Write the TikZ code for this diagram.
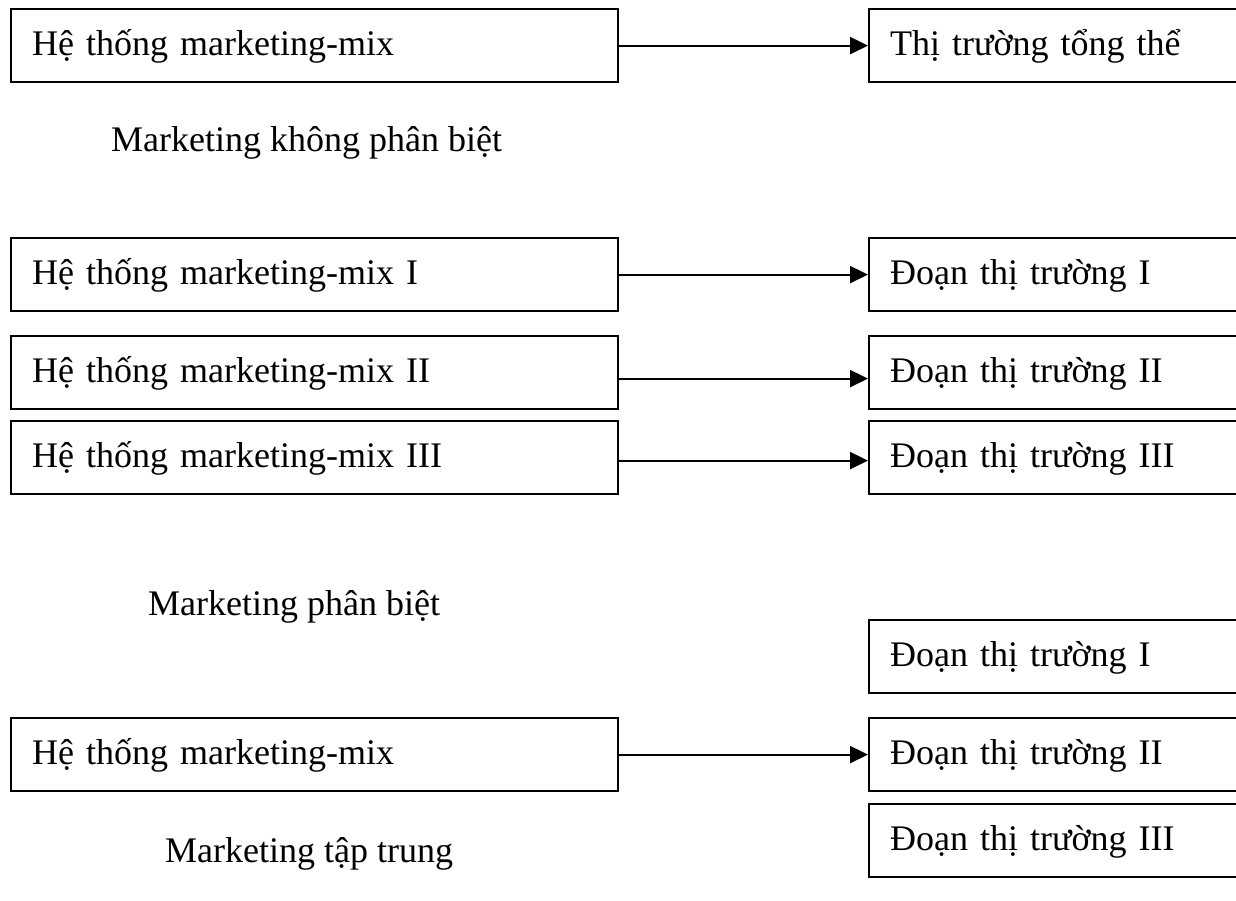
\documentclass[tikz,border=0pt]{standalone}
\usepackage{fontspec}
\setmainfont{Liberation Serif}
\usetikzlibrary{arrows.meta}
\begin{document}
\begin{tikzpicture}[x=1pt,y=-1pt,
  txt/.style={font=\fontsize{36}{43}\selectfont},
  box/.style={txt, draw, line width=2.2pt, anchor=north west,
    minimum height=73pt, inner xsep=21pt, inner ysep=0pt,
    text height=31pt, text depth=11pt, align=left},
  leftbox/.style={box, text width=565pt},
  rightbox/.style={box, text width=420pt},
  caption/.style={txt, anchor=base west, inner sep=0pt},
  arr/.style={line width=2.2pt, -{Triangle[length=18pt,width=17pt]}}]
\useasboundingbox (0,0) rectangle (1236,900);

% undifferentiated marketing
\node[leftbox]  (l1) at (10,8)  {Hệ thống marketing-mix};
\node[rightbox] (r1) at (868,8) {Thị trường tổng thể};
\draw[arr] (l1.east) -- (r1.west);
\node[caption] (c1) at (111,151) {Marketing không phân biệt};

% differentiated marketing
\node[leftbox]  (la) at (10,237) {Hệ thống marketing-mix I};
\node[leftbox]  (lb) at (10,335) {Hệ thống marketing-mix II};
\node[leftbox]  (lc) at (10,420) {Hệ thống marketing-mix III};
\node[rightbox] (ra) at (868,237) {Đoạn thị trường I};
\node[rightbox] (rb) at (868,335) {Đoạn thị trường II};
\node[rightbox] (rc) at (868,420) {Đoạn thị trường III};
\draw[arr] (la.east) -- (ra.west);
\draw[arr] ([yshift=-6pt]lb.east) -- ([yshift=-6pt]rb.west);
\draw[arr] ([yshift=-3pt]lc.east) -- ([yshift=-3pt]rc.west);
\node[caption] (c2) at (148,615) {Marketing phân biệt};

% concentrated marketing
\node[rightbox] (rd) at (868,619) {Đoạn thị trường I};
\node[rightbox] (re) at (868,717) {Đoạn thị trường II};
\node[rightbox] (rf) at (868,803) {Đoạn thị trường III};
\node[leftbox]  (ld) at (10,717)  {Hệ thống marketing-mix};
\draw[arr] (ld.east) -- (re.west);
\node[caption] (c3) at (165,862) {Marketing tập trung};
\end{tikzpicture}
\end{document}
